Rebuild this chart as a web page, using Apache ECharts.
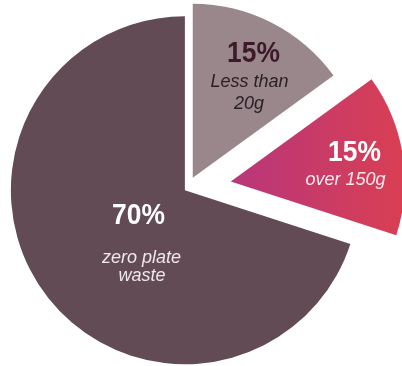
<!DOCTYPE html>
<html>
<head>
<meta charset="utf-8">
<script src="https://cdn.jsdelivr.net/npm/echarts@6/dist/echarts.min.js"></script>
<style>
html,body{margin:0;padding:0;background:#fff;}
#chart{width:402px;height:366px;}
</style>
</head>
<body>
<div id="chart"></div>
<script>
// Data
var categories = ['Less than 20g', 'over 150g', 'zero plate waste'];
var values = [15, 15, 70];
var percentLabels = ['15%', '15%', '70%'];
var descLines = [['Less than', '20g'], ['over 150g'], ['zero plate', 'waste']];

// Styles
var sliceColors = [
  '#9a878c',
  new echarts.graphic.LinearGradient(0, 0, 1, 0, [
    { offset: 0, color: '#b8367c' },
    { offset: 1, color: '#d93f52' }
  ]),
  '#634b55'
];
var sliceOffsets = [12, 44, 3];
var CENTER = [187.3, 188.4];
var RADIUS = 174;

var series = categories.map(function (cat, k) {
  return {
    type: 'pie',
    center: CENTER,
    radius: RADIUS,
    startAngle: 90,
    clockwise: true,
    silent: true,
    selectedMode: 'multiple',
    selectedOffset: sliceOffsets[k],
    label: { show: false },
    labelLine: { show: false },
    emphasis: { disabled: true },
    select: { itemStyle: { borderWidth: 0 } },
    data: values.map(function (v, i) {
      return {
        name: categories[i],
        value: v,
        selected: i === k,
        itemStyle: {
          color: i === k ? sliceColors[i] : 'rgba(0,0,0,0)',
          borderWidth: 0
        }
      };
    })
  };
});

// Label text styling/positions
var labelStyle = [
  { pct: [253.5, 54], pctColor: '#3d1a29', desc: [[249.5, 82], [249, 104]], descColor: '#2a2026' },
  { pct: [354.5, 152.5], pctColor: '#ffffff', desc: [[345.5, 180]], descColor: '#fbe9ee' },
  { pct: [138.5, 216], pctColor: '#ffffff', desc: [[141.5, 257.5], [142, 276]], descColor: '#efe7ea' }
];

var graphics = [];
categories.forEach(function (cat, i) {
  var s = labelStyle[i];
  graphics.push({
    type: 'text',
    x: s.pct[0], y: s.pct[1],
    scaleX: 0.88,
    z: 100,
    silent: true,
    style: {
      text: percentLabels[i],
      fontFamily: '"Liberation Sans", Arial, sans-serif',
      fontWeight: 'bold',
      fontSize: 30,
      fill: s.pctColor,
      align: 'center',
      verticalAlign: 'middle'
    }
  });
  descLines[i].forEach(function (line, j) {
    graphics.push({
      type: 'text',
      x: s.desc[j][0], y: s.desc[j][1],
      z: 100,
      silent: true,
      style: {
        text: line,
        fontFamily: '"Liberation Sans", Arial, sans-serif',
        fontStyle: 'italic',
        fontSize: 18,
        fill: s.descColor,
        align: 'center',
        verticalAlign: 'middle'
      }
    });
  });
});

var chart = echarts.init(document.getElementById('chart'), null, { renderer: 'canvas' });
chart.setOption({
  animation: false,
  backgroundColor: '#ffffff',
  series: series,
  graphic: { elements: graphics }
});
</script>
</body>
</html>
